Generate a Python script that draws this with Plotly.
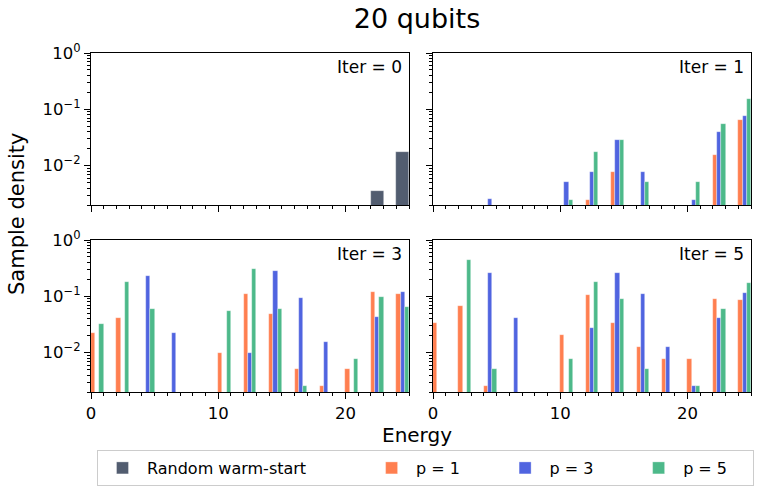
import plotly.graph_objects as go
from plotly.subplots import make_subplots

# ---------------- data ----------------
energies = [0, 2, 4, 6, 8, 10, 12, 14, 16, 18, 20, 22, 24]

# Iter = 0 : random warm-start
random_ws = [None, None, None, None, None, None, None, None, None, None, None, 0.0036, 0.0178]

# Iter = 1
it1_p1 = [None, None, None, None, None, None, 0.0025, 0.0076, None, None, None, 0.0153, 0.064]
it1_p3 = [None, None, 0.00254, None, None, 0.0051, 0.0076, 0.028, 0.0076, None, 0.0025, 0.040, 0.076]
it1_p5 = [None, None, None, None, None, 0.0025, 0.0178, 0.028, 0.0051, None, 0.0051, 0.056, 0.155]

# Iter = 3
it3_p1 = [0.0226, 0.0405, None, None, None, 0.0100, 0.108, 0.0478, 0.00506, 0.00253, 0.00506, 0.12, 0.108]
it3_p3 = [None, None, 0.228, 0.0226, None, None, 0.0100, 0.28, 0.093, 0.0152, None, 0.0435, 0.119]
it3_p5 = [0.0327, 0.18, 0.0586, None, None, 0.054, 0.308, 0.060, 0.00253, None, 0.0076, 0.098, 0.065]

# Iter = 5
it5_p1 = [0.033, 0.066, 0.00253, None, None, 0.0203, 0.104, 0.033, 0.0128, 0.0076, 0.0076, 0.088, 0.0846]
it5_p3 = [None, None, 0.255, 0.0405, None, None, 0.0277, 0.255, 0.111, 0.0128, 0.00253, 0.0405, 0.116]
it5_p5 = [None, 0.45, 0.00506, None, None, 0.0076, 0.18, 0.088, 0.00506, None, 0.00253, 0.0586, 0.17]

panel_titles = ["Iter = 0", "Iter = 1", "Iter = 3", "Iter = 5"]
series_names = ["Random warm-start", "p = 1", "p = 3", "p = 5"]
y_tickvals = [1, 0.1, 0.01]
y_ticktext = ["10<sup>0</sup>", "10<sup>\u22121</sup>", "10<sup>\u22122</sup>"]

# ---------------- style ----------------
C_GRAY = "#525D70"
C_ORANGE = "#FF7F50"
C_BLUE = "#5064E0"
C_GREEN = "#4DB98A"
FONT = "DejaVu Sans"
NB = "\u00a0"
legend_pad = {"Random warm-start": 11, "p = 1": 7, "p = 3": 7, "p = 5": 4}

W, H = 760, 492
fig = make_subplots(rows=2, cols=2, shared_xaxes=True, shared_yaxes=True,
                    horizontal_spacing=0.03, vertical_spacing=0.07)

edge = dict(color="rgba(255,255,255,0.55)", width=0.6)


def add_bar(y, name, color, row, col, offset, width, show):
    fig.add_trace(go.Bar(x=energies, y=y, name=name + NB * legend_pad[name],
                         marker_color=color, marker_line=edge, offset=offset, width=width,
                         showlegend=show, legendgroup=name),
                  row=row, col=col)


add_bar(random_ws, series_names[0], C_GRAY, 1, 1, 0, 1, True)
third = 1 / 3
for (row, col, s1, s3, s5, show) in [
    (1, 2, it1_p1, it1_p3, it1_p5, True),
    (2, 1, it3_p1, it3_p3, it3_p5, False),
    (2, 2, it5_p1, it5_p3, it5_p5, False),
]:
    add_bar(s1, series_names[1], C_ORANGE, row, col, 0, third, show)
    add_bar(s3, series_names[2], C_BLUE, row, col, third, third, show)
    add_bar(s5, series_names[3], C_GREEN, row, col, 2 * third, third, show)

xdom = [[91 / W, 409 / W], [433 / W, 751 / W]]
ydom = [[1 - 205 / H, 1 - 53 / H], [1 - 392 / H, 1 - 240 / H]]

axis_common = dict(showline=True, mirror=True, linecolor="black", linewidth=1.3,
                   ticks="outside", tickcolor="black", tickwidth=1.3,
                   showgrid=False, zeroline=False,
                   tickfont=dict(family=FONT, size=16.5, color="black"))

for i, (row, col) in enumerate([(1, 1), (1, 2), (2, 1), (2, 2)]):
    idx = "" if i == 0 else str(i + 1)
    fig.layout["xaxis" + idx].update(
        domain=xdom[col - 1], range=[0, 25], tickmode="linear", tick0=0, dtick=10,
        ticklen=6, showticklabels=(row == 2), automargin=False,
        minor=dict(ticks="outside", ticklen=3, tickcolor="black", tickwidth=1,
                   dtick=1, tick0=0, showgrid=False),
        **axis_common)
    fig.layout["yaxis" + idx].update(
        domain=ydom[row - 1], type="log", range=[-2.699, 0],
        tickmode="array", tickvals=y_tickvals, ticktext=y_ticktext, ticklen=6,
        showticklabels=(col == 1), automargin=False,
        minor=dict(ticks="outside", ticklen=3, tickcolor="black", tickwidth=1,
                   dtick="D1", showgrid=False),
        **axis_common)
    fig.add_annotation(text=panel_titles[i], xref=f"x{idx} domain", yref=f"y{idx} domain",
                       x=1, y=1, xanchor="right", yanchor="top", xshift=-5, yshift=-2,
                       showarrow=False, font=dict(family=FONT, size=17, color="black"))

fig.add_annotation(text="Sample density", xref="paper", yref="paper",
                   x=17 / W, y=1 - 214 / H, textangle=-90, showarrow=False,
                   xanchor="center", yanchor="middle",
                   font=dict(family=FONT, size=21, color="black"))
fig.add_annotation(text="Energy", xref="paper", yref="paper",
                   x=417 / W, y=1 - 435 / H, showarrow=False,
                   xanchor="center", yanchor="middle",
                   font=dict(family=FONT, size=20, color="black"))

fig.update_layout(
    width=W, height=H, margin=dict(l=0, r=0, t=0, b=0, autoexpand=False),
    paper_bgcolor="white", plot_bgcolor="white",
    barmode="overlay", bargap=0,
    title=dict(text="20 qubits", x=417 / W, y=1 - 19 / H, xanchor="center", yanchor="middle",
               font=dict(family=FONT, size=27, color="black")),
    legend=dict(orientation="h", x=97 / W, y=1 - 450 / H, xanchor="left", yanchor="top",
                bordercolor="#cccccc", borderwidth=1, bgcolor="white",
                font=dict(family=FONT, size=16, color="black"),
                itemwidth=39, traceorder="normal"),
)

fig.write_html("out.html")
